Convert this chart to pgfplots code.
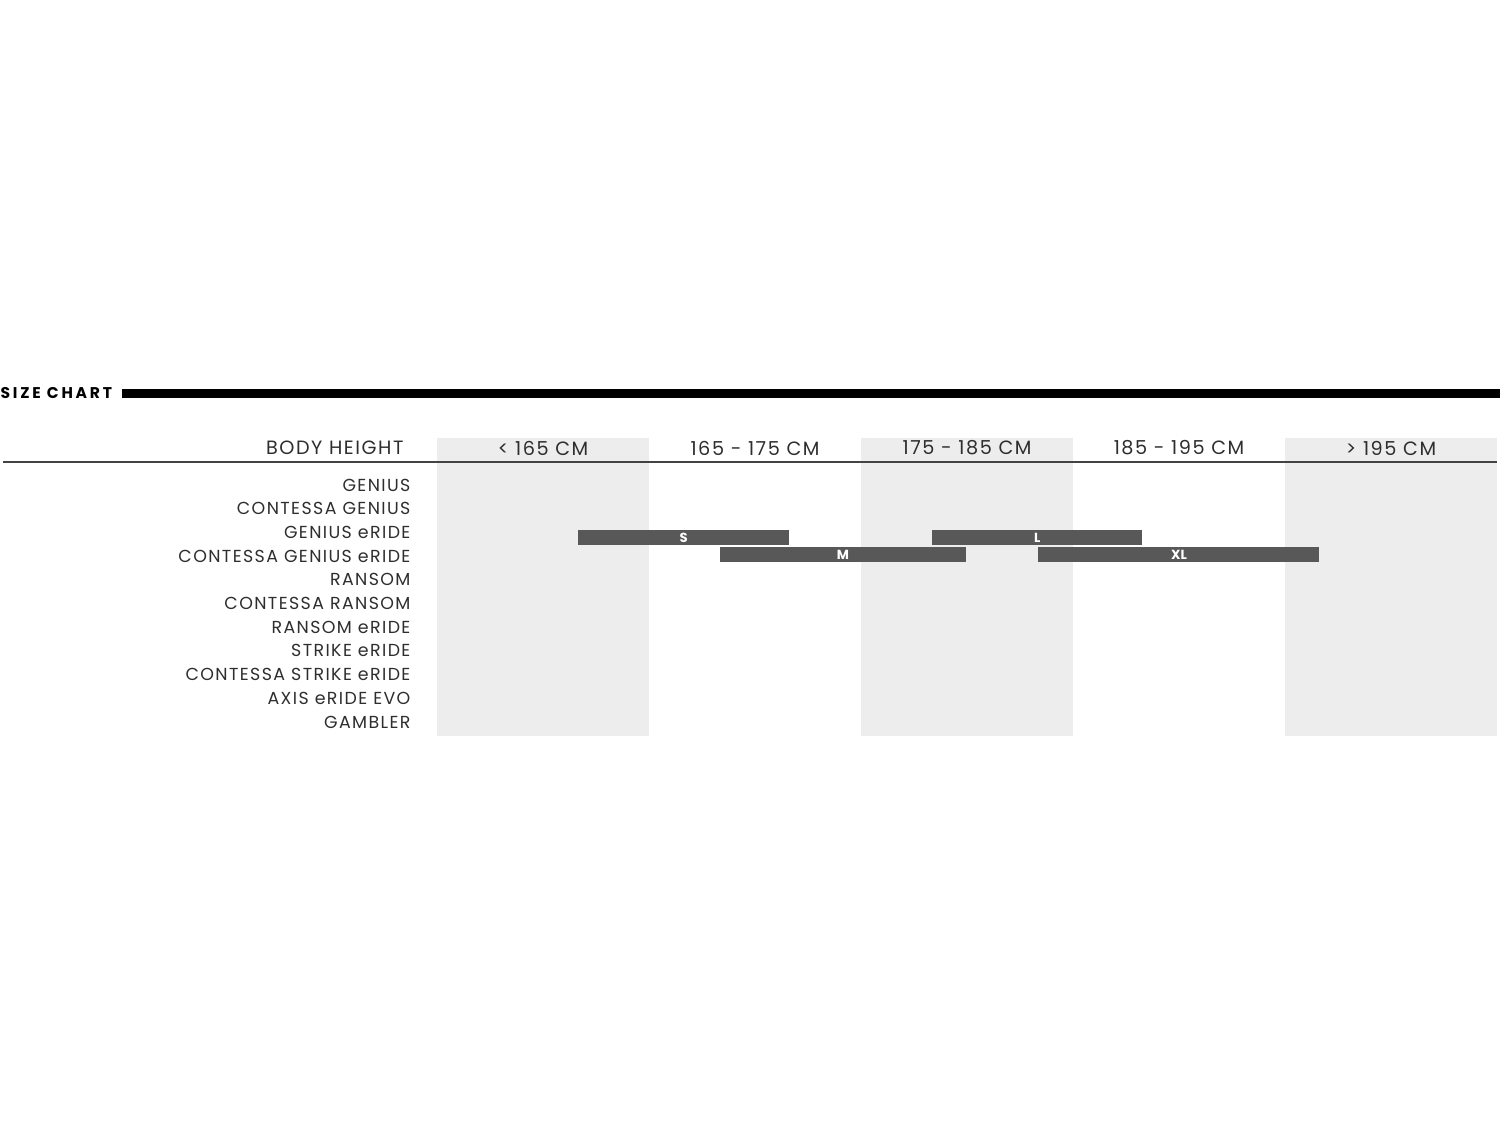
\documentclass[border=0pt]{standalone}
\usepackage{fontspec}
\setmainfont{Poppins}
\newfontfamily\lblfont[LetterSpace=8]{Poppins}
\newfontfamily\ttlfont[LetterSpace=18]{Poppins}
\usepackage{pgfplots}
\pgfplotsset{compat=1.18}
\definecolor{band}{HTML}{EDEDED}
\definecolor{barc}{HTML}{585858}
\definecolor{txt}{HTML}{2E2E2E}
\newcommand{\hd}{\lblfont\fontsize{7.3pt}{8pt}\selectfont}
\newcommand{\rw}{\lblfont\fontsize{6.6pt}{8pt}\selectfont}
\newcommand{\bl}{\bfseries\fontsize{5pt}{6pt}\selectfont}
\begin{document}
\begin{tikzpicture}
\begin{axis}[width=20cm,height=15cm,scale only axis,hide axis,clip=false,
  xmin=134.387,xmax=205.14,ymin=-20.46,ymax=27.0,y dir=reverse]
\path (rel axis cs:0,0) rectangle (rel axis cs:1,1);
% shaded columns
\fill[band] (axis cs:155,-1.983) rectangle (axis cs:165,10.59);
\fill[band] (axis cs:175,-1.983) rectangle (axis cs:185,10.59);
\fill[band] (axis cs:195,-1.983) rectangle (axis cs:205,10.59);
% title and rule
\node[anchor=west,inner sep=0pt,text=black] at (axis cs:134.387,-3.882) {\ttlfont\bfseries\fontsize{5.9pt}{7pt}\selectfont SIZE CHART};
\fill[black] (axis cs:140.14,-4.05) rectangle (axis cs:205.14,-3.67);
% header
\node[anchor=east,inner sep=0pt,text=txt] at (axis cs:153.44,-1.561) {\hd BODY HEIGHT};
\draw[line width=0.75pt,color=txt!90] (axis cs:134.53,-0.970) -- (axis cs:205,-0.970);
\node[inner sep=0pt,text=txt] at (axis cs:160,-1.561) {\hd < 165 CM};
\node[inner sep=0pt,text=txt] at (axis cs:170,-1.561) {\hd 165 - 175 CM};
\node[inner sep=0pt,text=txt] at (axis cs:180,-1.561) {\hd 175 - 185 CM};
\node[inner sep=0pt,text=txt] at (axis cs:190,-1.561) {\hd 185 - 195 CM};
\node[inner sep=0pt,text=txt] at (axis cs:200,-1.561) {\hd > 195 CM};
% row labels
\node[anchor=east,inner sep=0pt,text=txt] at (axis cs:153.77,0) {\rw GENIUS};
\node[anchor=east,inner sep=0pt,text=txt] at (axis cs:153.77,1) {\rw CONTESSA GENIUS};
\node[anchor=east,inner sep=0pt,text=txt] at (axis cs:153.77,2) {\rw GENIUS eRIDE};
\node[anchor=east,inner sep=0pt,text=txt] at (axis cs:153.77,3) {\rw CONTESSA GENIUS eRIDE};
\node[anchor=east,inner sep=0pt,text=txt] at (axis cs:153.77,4) {\rw RANSOM};
\node[anchor=east,inner sep=0pt,text=txt] at (axis cs:153.77,5) {\rw CONTESSA RANSOM};
\node[anchor=east,inner sep=0pt,text=txt] at (axis cs:153.77,6) {\rw RANSOM eRIDE};
\node[anchor=east,inner sep=0pt,text=txt] at (axis cs:153.77,7) {\rw STRIKE eRIDE};
\node[anchor=east,inner sep=0pt,text=txt] at (axis cs:153.77,8) {\rw CONTESSA STRIKE eRIDE};
\node[anchor=east,inner sep=0pt,text=txt] at (axis cs:153.77,9) {\rw AXIS eRIDE EVO};
\node[anchor=east,inner sep=0pt,text=txt] at (axis cs:153.77,10) {\rw GAMBLER};
% size bars
\addplot[fill=barc,draw=none] coordinates {(161.66,1.899)(171.60,1.899)(171.60,2.532)(161.66,2.532)} --cycle;
\addplot[fill=barc,draw=none] coordinates {(168.36,2.616)(179.94,2.616)(179.94,3.249)(168.36,3.249)} --cycle;
\addplot[fill=barc,draw=none] coordinates {(178.35,1.899)(188.27,1.899)(188.27,2.532)(178.35,2.532)} --cycle;
\addplot[fill=barc,draw=none] coordinates {(183.37,2.616)(196.61,2.616)(196.61,3.249)(183.37,3.249)} --cycle;
\node[inner sep=0pt,text=white] at (axis cs:166.63,2.215) {\bl S};
\node[inner sep=0pt,text=white] at (axis cs:174.15,2.932) {\bl M};
\node[inner sep=0pt,text=white] at (axis cs:183.31,2.215) {\bl L};
\node[inner sep=0pt,text=white] at (axis cs:190.0,2.932) {\bl XL};
\end{axis}
\end{tikzpicture}
\end{document}
